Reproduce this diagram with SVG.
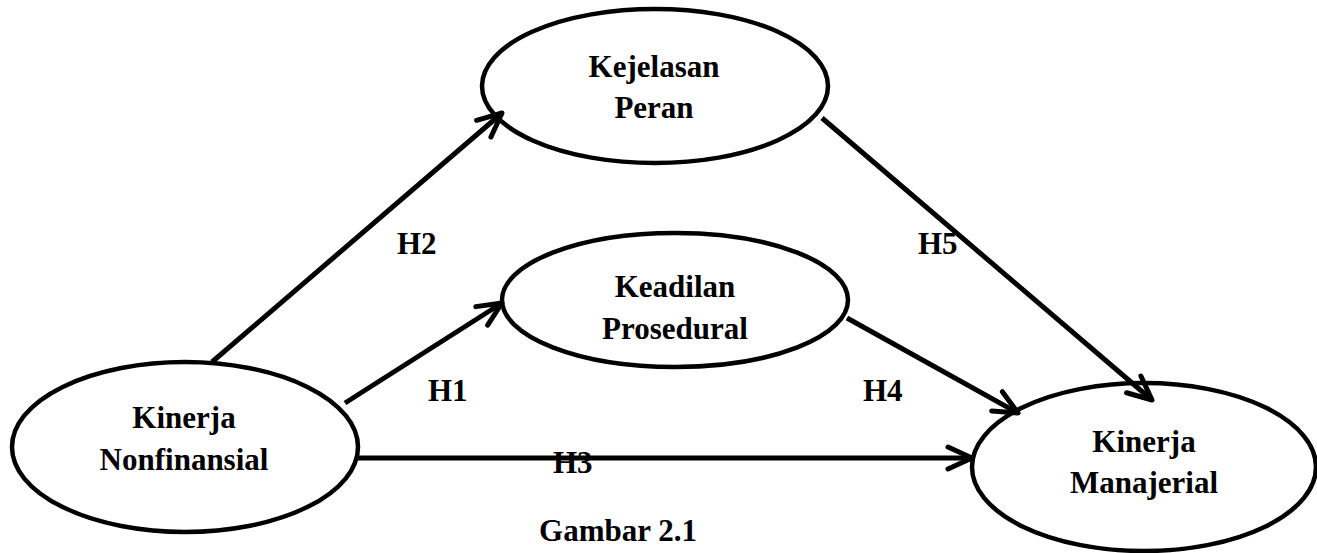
<svg xmlns="http://www.w3.org/2000/svg" width="1317" height="553" viewBox="0 0 1317 553">
<style>
.node{fill:#fff;stroke:#000;stroke-width:4.5}
.lbl{font-family:"Liberation Serif","Times New Roman",serif;font-weight:bold;font-size:31px;fill:#000;text-anchor:middle}
.hl{font-family:"Liberation Serif","Times New Roman",serif;font-weight:bold;font-size:31px;fill:#000}
.edge{stroke:#000;stroke-width:5;fill:none;marker-end:url(#arr)}
</style>
<defs>
<marker id="arr" markerUnits="userSpaceOnUse" markerWidth="40" markerHeight="40" viewBox="-30 -20 40 40" refX="0" refY="0" orient="auto">
<path d="M-24,-11 L0,0 L-24,11" fill="none" stroke="#000" stroke-width="5" stroke-linecap="round" stroke-linejoin="round"/>
</marker>
</defs>
<rect width="1317" height="553" fill="#fff"/>
<g id="n-kejelasan">
<ellipse class="node" cx="655" cy="86" rx="173" ry="77"/>
<text class="lbl" x="654" y="77">Kejelasan</text>
<text class="lbl" x="654" y="118">Peran</text>
</g>
<g id="n-keadilan">
<ellipse class="node" cx="675" cy="300" rx="173" ry="67"/>
<text class="lbl" x="675" y="297">Keadilan</text>
<text class="lbl" x="675" y="339">Prosedural</text>
</g>
<g id="n-nonfinansial">
<ellipse class="node" cx="185" cy="447" rx="173" ry="85"/>
<text class="lbl" x="184" y="428">Kinerja</text>
<text class="lbl" x="184" y="470">Nonfinansial</text>
</g>
<g id="n-manajerial">
<ellipse class="node" cx="1144" cy="467" rx="172" ry="84"/>
<text class="lbl" x="1144" y="452">Kinerja</text>
<text class="lbl" x="1144" y="493">Manajerial</text>
</g>
<g id="connectors">
<line class="edge" x1="212" y1="362" x2="502" y2="113"/>
<line class="edge" x1="345" y1="403" x2="502" y2="303"/>
<line class="edge" x1="355" y1="458" x2="972" y2="458"/>
<line class="edge" x1="847" y1="318" x2="1018" y2="413"/>
<line class="edge" x1="822" y1="118" x2="1152" y2="400"/>
</g>
<g id="labels">
<text class="hl" x="397" y="254">H2</text>
<text class="hl" x="428" y="401">H1</text>
<text class="hl" x="553" y="473">H3</text>
<text class="hl" x="863" y="401">H4</text>
<text class="hl" x="918" y="254">H5</text>
<text class="lbl" x="618" y="541">Gambar 2.1</text>
</g>
</svg>
